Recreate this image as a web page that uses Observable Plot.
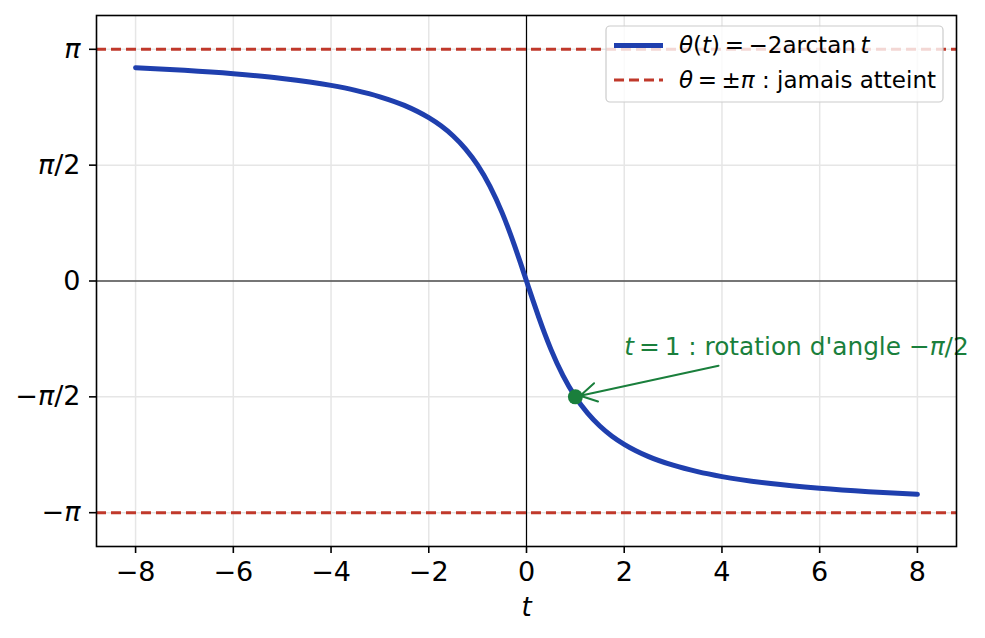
<!DOCTYPE html>
<html><head><meta charset="utf-8">
<script src="https://cdn.jsdelivr.net/npm/d3@7"></script>
<script src="https://cdn.jsdelivr.net/npm/@observablehq/plot@0.6"></script>
<style>
body{margin:0;background:#fff;font-family:"DejaVu Sans",sans-serif;}
#wrap{position:relative;width:985px;height:638px;}
#legend{position:absolute;left:0;top:0;pointer-events:none;}
</style></head><body><div id="wrap"></div>
<script>
// curve samples
const tVals = [-8,-7,-6,-5,-4,-3.5,-3,-2.5,-2,-1.75,-1.5,-1.25,-1,-0.75,-0.5,-0.375,-0.25,-0.125,0,0.125,0.25,0.375,0.5,0.75,1,1.25,1.5,1.75,2,2.5,3,3.5,4,5,6,7,8];
const thetaVals = [2.893,2.858,2.811,2.747,2.652,2.585,2.498,2.381,2.214,2.104,1.966,1.792,1.571,1.287,0.927,0.717,0.490,0.249,0,-0.249,-0.490,-0.717,-0.927,-1.287,-1.571,-1.792,-1.966,-2.104,-2.214,-2.381,-2.498,-2.585,-2.652,-2.747,-2.811,-2.858,-2.893];
const xTicks = [-8,-6,-4,-2,0,2,4,6,8];
const yTicks = [-Math.PI, -Math.PI/2, 0, Math.PI/2, Math.PI];
const yTickLabels = ["−π","−π/2","0","π/2","π"];
const asymptotes = [Math.PI, -Math.PI];
const pointT = [1];
const pointTheta = [-Math.PI/2];
const annotText = ["t = 1 : rotation d'angle −π/2"];
const annotX = [2.0];
const annotY = [-1.0];
const arrowFrom = [3.93, -1.15];
const legendLabels = ["θ(t) = −2arctan t", "θ = ±π : jamais atteint"];

const curve = tVals.map((t,i)=>({t, theta: thetaVals[i]}));
const pts = pointT.map((t,i)=>({t, theta: pointTheta[i]}));
const ann = annotText.map((s,i)=>({s, x: annotX[i], y: annotY[i]}));
const arr = [{x1: arrowFrom[0], y1: arrowFrom[1], x2: pointT[0], y2: pointTheta[0]}];

const BLUE = "#1f3fae", RED = "#c0392b", GREEN = "#1a7f3c";
const fmtX = d => d < 0 ? "−" + (-d) : String(d);
const fmtY = d => yTickLabels[yTicks.findIndex(v => Math.abs(v - d) < 1e-9)];

const chart = Plot.plot({
  width: 985, height: 638,
  marginLeft: 96, marginRight: 29, marginTop: 15, marginBottom: 92,
  style: {fontFamily: "DejaVu Sans", background: "#fff"},
  x: {domain: [-8.8, 8.8]},
  y: {domain: [-3.6, 3.6]},
  marks: [
    Plot.gridX(xTicks, {stroke: "#e6e6e6", strokeOpacity: 1, strokeWidth: 1.5}),
    Plot.gridY(yTicks, {stroke: "#e6e6e6", strokeOpacity: 1, strokeWidth: 1.5}),
    Plot.ruleX([0], {stroke: "black", strokeWidth: 1.2}),
    Plot.ruleY([0], {stroke: "black", strokeWidth: 1.2}),
    Plot.ruleY(asymptotes, {stroke: RED, strokeWidth: 3, strokeDasharray: "10,5"}),
    Plot.line(curve, {x: "t", y: "theta", stroke: BLUE, strokeWidth: 5, curve: "monotone-x"}),
    Plot.arrow(arr, {x1: "x1", y1: "y1", x2: "x2", y2: "y2", stroke: GREEN, strokeWidth: 2, headLength: 14, insetEnd: 5, bend: 0}),
    Plot.dot(pts, {x: "t", y: "theta", r: 7.5, fill: GREEN, stroke: "none"}),
    Plot.text(ann, {x: "x", y: "y", text: "s", textAnchor: "start", lineAnchor: "bottom", fill: GREEN, fontSize: 24.8, className: "annot"}),
    Plot.frame({stroke: "black", strokeWidth: 1.6}),
    Plot.axisX({ticks: xTicks, tickFormat: fmtX, tickSize: 7, tickPadding: 8, fontSize: 27, stroke: "black", strokeWidth: 1.6,
      label: "t", labelAnchor: "center", labelArrow: "none", labelOffset: 69}),
    Plot.axisY({ticks: yTicks, tickFormat: fmtY, tickSize: 7, tickPadding: 9, fontSize: 27, stroke: "black", strokeWidth: 1.6, label: null})
  ]
});
const wrap = document.getElementById("wrap");
wrap.appendChild(chart);

chart.querySelectorAll('g[aria-label$="tick label"]').forEach(g => g.setAttribute("font-size", "27"));

// italicize math symbols
const it = s => `<tspan font-style="italic">${s}</tspan>`;
chart.querySelectorAll("text").forEach(el => {
  if (el.children.length) return;
  const txt = el.textContent;
  if (txt === "t") { el.setAttribute("font-style", "italic"); el.setAttribute("font-size", "26"); return; }
  if (txt.includes("π") && !txt.includes("rotation")) el.innerHTML = txt.replace("π", it("π"));
});
chart.querySelectorAll(".annot text").forEach(el => {
  el.innerHTML = it("t") + "\u2009=\u20091 : rotation d'angle −" + it("π") + "/2";
});

// legend overlay
const ns = "http://www.w3.org/2000/svg";
const lg = document.createElementNS(ns, "svg");
lg.setAttribute("id", "legend"); lg.setAttribute("width", 985); lg.setAttribute("height", 638);
lg.innerHTML = `
<rect x="606" y="26" width="337" height="76" rx="4" fill="white" fill-opacity="0.8" stroke="#cccccc" stroke-width="1.2"/>
<line x1="614" x2="663" y1="45.5" y2="45.5" stroke="${BLUE}" stroke-width="5"/>
<line x1="614" x2="663" y1="80" y2="80" stroke="${RED}" stroke-width="3" stroke-dasharray="10,5"/>
<text x="679" y="53" font-family="DejaVu Sans" font-size="23" fill="black">${it("θ")}(${it("t")})\u2009=\u2009−2arctan\u2009${it("t")}</text>
<text x="679" y="88" font-family="DejaVu Sans" font-size="23" fill="black">${it("θ")}\u2009=\u2009±${it("π")} : jamais atteint</text>`;
wrap.appendChild(lg);
</script></body></html>
